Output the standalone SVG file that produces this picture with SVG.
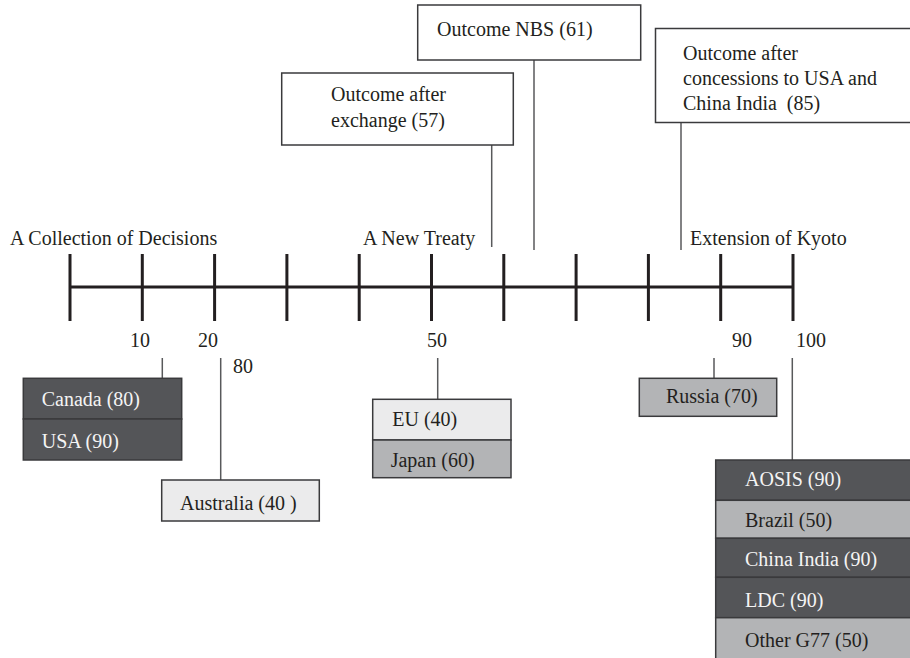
<svg xmlns="http://www.w3.org/2000/svg" width="910" height="658" viewBox="0 0 910 658">
<style>
text{font-family:"Liberation Serif","Times New Roman",serif;font-size:20px;fill:#231f20}
.lt{fill:#f4f4f4}
.box{stroke:#3a3a3c;stroke-width:1.5}
.white{fill:#ffffff}
.light{fill:#ebebec}
.mid{fill:#b3b4b6}
.dark{fill:#545558}
.conn{stroke:#58595b;stroke-width:1.5;fill:none}
.axis{stroke:#231f20;stroke-width:3;fill:none}
</style>
<rect width="910" height="658" fill="#ffffff"/>
<g id="timeline">
<line class="axis" x1="70" y1="287" x2="793" y2="287"/>
<path class="axis" d="M70 254V321M142.3 254V321M214.6 254V321M286.9 254V321M359.2 254V321M431.5 254V321M503.8 254V321M576.1 254V321M648.4 254V321M720.7 254V321M793 254V321"/>
<text x="10" y="245">A Collection of Decisions</text>
<text x="363" y="245">A New Treaty</text>
<text x="690" y="245">Extension of Kyoto</text>
<text x="130" y="347">10</text>
<text x="198" y="347">20</text>
<text x="427" y="347">50</text>
<text x="732" y="347">90</text>
<text x="796" y="347">100</text>
<text x="233" y="373">80</text>
</g>
<g id="connectors">
<line class="conn" x1="491.7" y1="145" x2="491.7" y2="247"/>
<line class="conn" x1="534" y1="60" x2="534" y2="250"/>
<line class="conn" x1="681" y1="122" x2="681" y2="250"/>
<line class="conn" x1="162.3" y1="358" x2="162.3" y2="378"/>
<line class="conn" x1="220.7" y1="358" x2="220.7" y2="480"/>
<line class="conn" x1="437.7" y1="358" x2="437.7" y2="399"/>
<line class="conn" x1="714" y1="358" x2="714" y2="378"/>
<line class="conn" x1="792.3" y1="358" x2="792.3" y2="460"/>
</g>
<g id="outcome-exchange">
<rect class="box white" x="281.7" y="73" width="231.6" height="72"/>
<text x="331" y="101">Outcome after</text>
<text x="331" y="127">exchange (57)</text>
</g>
<g id="outcome-nbs">
<rect class="box white" x="417.7" y="5" width="223" height="55"/>
<text x="437" y="36">Outcome NBS (61)</text>
</g>
<g id="outcome-concessions">
<rect class="box white" x="655.5" y="28.5" width="260" height="94"/>
<text x="683" y="60">Outcome after</text>
<text x="683" y="85">concessions to USA and</text>
<text x="683" y="110" xml:space="preserve">China India  (85)</text>
</g>
<g id="canada-usa">
<rect class="box dark" x="23.3" y="378.3" width="158.4" height="40.7"/>
<rect class="box dark" x="23.3" y="419" width="158.4" height="41"/>
<text class="lt" x="41.7" y="406">Canada (80)</text>
<text class="lt" x="41.7" y="448">USA (90)</text>
</g>
<g id="australia">
<rect class="box light" x="161.7" y="480" width="157.6" height="41"/>
<text x="180" y="510">Australia (40 )</text>
</g>
<g id="eu-japan">
<rect class="box light" x="372.7" y="399.3" width="138.3" height="40.7"/>
<rect class="box mid" x="372.7" y="440" width="138.3" height="37.7"/>
<text x="392.3" y="425.7">EU (40)</text>
<text x="390.7" y="466.7">Japan (60)</text>
</g>
<g id="russia">
<rect class="box mid" x="639.3" y="378.3" width="137.4" height="38"/>
<text x="666" y="403.3">Russia (70)</text>
</g>
<g id="developing">
<rect class="box dark" x="715.7" y="460" width="200" height="40.3"/>
<rect class="box mid" x="715.7" y="500.3" width="200" height="38"/>
<rect class="box dark" x="715.7" y="538.3" width="200" height="39"/>
<rect class="box dark" x="715.7" y="577.3" width="200" height="40.4"/>
<rect class="box mid" x="715.7" y="617.7" width="200" height="45"/>
<text class="lt" x="745" y="486">AOSIS (90)</text>
<text x="745" y="526.7">Brazil (50)</text>
<text class="lt" x="745" y="566">China India (90)</text>
<text class="lt" x="745" y="606.7">LDC (90)</text>
<text x="745" y="647.3">Other G77 (50)</text>
</g>
</svg>
